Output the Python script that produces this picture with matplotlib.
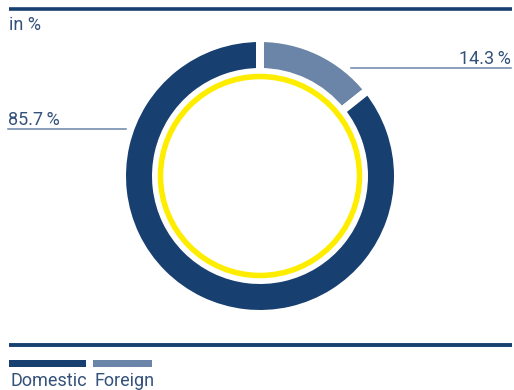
import matplotlib
matplotlib.use("Agg")
import matplotlib.pyplot as plt
from matplotlib.patches import Circle, Rectangle

# data
categories = ["Foreign", "Domestic"]
shares = [14.3, 85.7]
labels = ["14.3\u2009%", "85.7\u2009%"]
unit_label = "in %"

navy = "#173f6f"
light = "#6b85a8"
yellow = "#ffed00"
text_col = "#34517a"
colors = [light, navy]

W, H = 514, 390
fig = plt.figure(figsize=(W / 100, H / 100), dpi=100)
ax = fig.add_axes([0, 0, 1, 1])

def y(py):
    # pixel row (from top) -> axis units
    return H - py

cx, cy = 260, y(176)
gap = 8
ax.pie(shares, colors=colors, startangle=90, counterclock=False,
       center=(cx, cy), radius=134 + gap / 2,
       wedgeprops=dict(width=26 + gap, edgecolor="white", linewidth=gap * 0.72))
ax.add_patch(Circle((cx, cy), 99.5, fill=False, edgecolor=yellow, linewidth=4))

ax.set_xlim(0, W)
ax.set_ylim(0, H)
ax.set_aspect("auto")
ax.axis("off")

font = dict(family=["Roboto", "DejaVu Sans"], fontweight="normal", fontsize=13,
            color=text_col)

# rules
ax.plot([9, 512], [y(9), y(9)], color=navy, linewidth=2.6, solid_capstyle="butt")
ax.plot([9, 512], [y(344.5), y(344.5)], color=navy, linewidth=2.8,
        solid_capstyle="butt")
ax.text(9, y(30), unit_label, ha="left", va="baseline", **font)

# leader lines and labels
ax.plot([351, 511], [y(68), y(68)], color=light, linewidth=1.1)
ax.text(511, y(64), labels[0], ha="right", va="baseline", **font)
ax.plot([8, 126], [y(129), y(129)], color=light, linewidth=1.1)
ax.text(8, y(125), labels[1], ha="left", va="baseline", **font)

# legend
legend_items = [("Domestic", navy, 9, 77), ("Foreign", light, 93, 59)]
for name, col, x0, w in legend_items:
    ax.add_patch(Rectangle((x0, y(367)), w, 7, facecolor=col, edgecolor="none"))
    ax.text(x0 + 1, y(386), name, ha="left", va="baseline", **font)

fig.savefig("out.png", dpi=100)
